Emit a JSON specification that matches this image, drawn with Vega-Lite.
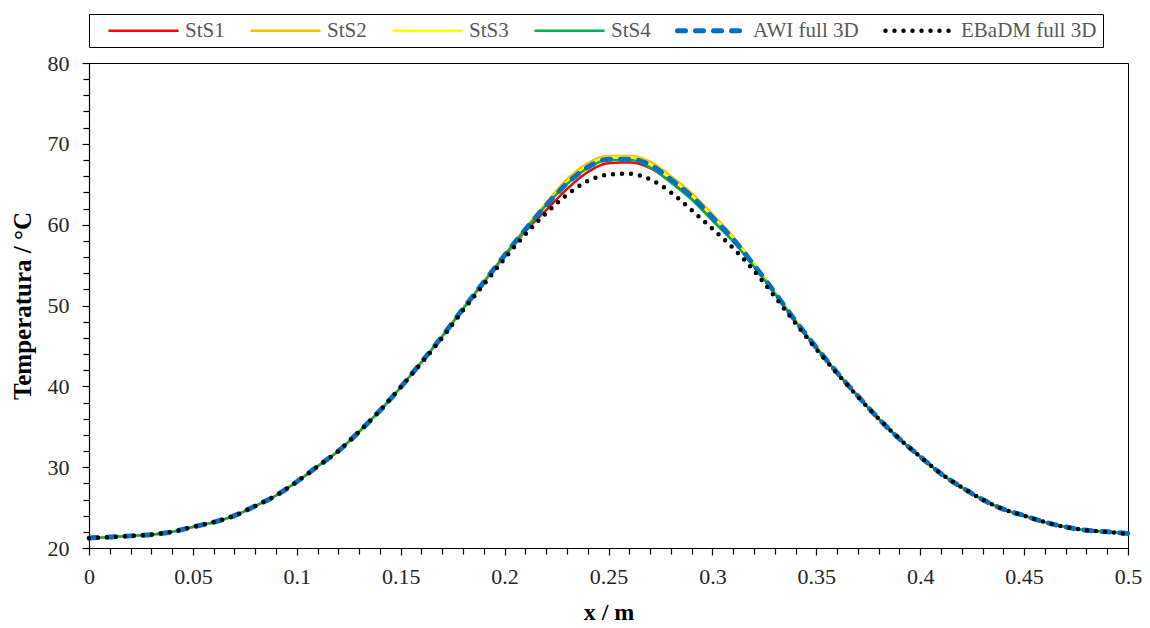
{
  "$schema": "https://vega.github.io/schema/vega-lite/v6.json",
  "width": 1039,
  "height": 485,
  "autosize": {"type": "none"},
  "padding": {"left": 89, "top": 63, "right": 22, "bottom": 80},
  "background": "white",
  "config": {
    "view": {"stroke": "black", "strokeWidth": 1},
    "font": "Liberation Serif"
  },
  "data": {
    "values": [
      {"x": 0.00, "StS1": 21.2, "StS2": 21.2, "StS3": 21.2, "StS4": 21.2, "AWI full 3D": 21.25, "EBaDM full 3D": 21.2},
      {"x": 0.01, "StS1": 21.35, "StS2": 21.35, "StS3": 21.35, "StS4": 21.35, "AWI full 3D": 21.35, "EBaDM full 3D": 21.35},
      {"x": 0.02, "StS1": 21.5, "StS2": 21.5, "StS3": 21.5, "StS4": 21.5, "AWI full 3D": 21.5, "EBaDM full 3D": 21.5},
      {"x": 0.03, "StS1": 21.65, "StS2": 21.65, "StS3": 21.65, "StS4": 21.65, "AWI full 3D": 21.65, "EBaDM full 3D": 21.65},
      {"x": 0.04, "StS1": 22.0, "StS2": 22.0, "StS3": 22.0, "StS4": 22.0, "AWI full 3D": 22.0, "EBaDM full 3D": 22.0},
      {"x": 0.05, "StS1": 22.6, "StS2": 22.6, "StS3": 22.6, "StS4": 22.6, "AWI full 3D": 22.6, "EBaDM full 3D": 22.6},
      {"x": 0.06, "StS1": 23.2, "StS2": 23.2, "StS3": 23.2, "StS4": 23.2, "AWI full 3D": 23.2, "EBaDM full 3D": 23.2},
      {"x": 0.07, "StS1": 24.0, "StS2": 24.0, "StS3": 24.0, "StS4": 24.0, "AWI full 3D": 24.0, "EBaDM full 3D": 24.0},
      {"x": 0.08, "StS1": 25.2, "StS2": 25.2, "StS3": 25.2, "StS4": 25.2, "AWI full 3D": 25.2, "EBaDM full 3D": 25.2},
      {"x": 0.09, "StS1": 26.5, "StS2": 26.5, "StS3": 26.5, "StS4": 26.5, "AWI full 3D": 26.5, "EBaDM full 3D": 26.5},
      {"x": 0.10, "StS1": 28.2, "StS2": 28.2, "StS3": 28.2, "StS4": 28.2, "AWI full 3D": 28.2, "EBaDM full 3D": 28.2},
      {"x": 0.11, "StS1": 30.1, "StS2": 30.1, "StS3": 30.1, "StS4": 30.1, "AWI full 3D": 30.1, "EBaDM full 3D": 30.1},
      {"x": 0.12, "StS1": 32.0, "StS2": 32.0, "StS3": 32.0, "StS4": 32.0, "AWI full 3D": 32.0, "EBaDM full 3D": 32.0},
      {"x": 0.13, "StS1": 34.4, "StS2": 34.4, "StS3": 34.4, "StS4": 34.4, "AWI full 3D": 34.4, "EBaDM full 3D": 34.4},
      {"x": 0.14, "StS1": 37.0, "StS2": 37.0, "StS3": 37.0, "StS4": 37.0, "AWI full 3D": 37.0, "EBaDM full 3D": 37.0},
      {"x": 0.15, "StS1": 39.9, "StS2": 39.9, "StS3": 39.9, "StS4": 39.9, "AWI full 3D": 39.9, "EBaDM full 3D": 39.9},
      {"x": 0.16, "StS1": 43.0, "StS2": 43.0, "StS3": 43.0, "StS4": 43.0, "AWI full 3D": 43.0, "EBaDM full 3D": 42.9},
      {"x": 0.17, "StS1": 46.2, "StS2": 46.2, "StS3": 46.2, "StS4": 46.2, "AWI full 3D": 46.2, "EBaDM full 3D": 46.0},
      {"x": 0.18, "StS1": 49.6, "StS2": 49.6, "StS3": 49.6, "StS4": 49.6, "AWI full 3D": 49.6, "EBaDM full 3D": 49.4},
      {"x": 0.19, "StS1": 52.9, "StS2": 53.0, "StS3": 52.9, "StS4": 52.9, "AWI full 3D": 52.9, "EBaDM full 3D": 52.6},
      {"x": 0.20, "StS1": 56.1, "StS2": 56.3, "StS3": 56.2, "StS4": 56.2, "AWI full 3D": 56.2, "EBaDM full 3D": 55.8},
      {"x": 0.21, "StS1": 59.2, "StS2": 59.6, "StS3": 59.4, "StS4": 59.4, "AWI full 3D": 59.4, "EBaDM full 3D": 58.8},
      {"x": 0.22, "StS1": 61.8, "StS2": 62.7, "StS3": 62.5, "StS4": 62.4, "AWI full 3D": 62.4, "EBaDM full 3D": 61.4},
      {"x": 0.23, "StS1": 64.4, "StS2": 65.6, "StS3": 65.2, "StS4": 65.0, "AWI full 3D": 65.1, "EBaDM full 3D": 63.7},
      {"x": 0.24, "StS1": 66.5, "StS2": 67.6, "StS3": 67.3, "StS4": 67.0, "AWI full 3D": 67.1, "EBaDM full 3D": 65.4},
      {"x": 0.25, "StS1": 67.6, "StS2": 68.5, "StS3": 68.3, "StS4": 68.0, "AWI full 3D": 68.1, "EBaDM full 3D": 66.2},
      {"x": 0.26, "StS1": 67.7, "StS2": 68.5, "StS3": 68.3, "StS4": 68.0, "AWI full 3D": 68.1, "EBaDM full 3D": 66.3},
      {"x": 0.27, "StS1": 67.0, "StS2": 67.8, "StS3": 67.5, "StS4": 67.1, "AWI full 3D": 67.4, "EBaDM full 3D": 65.6},
      {"x": 0.28, "StS1": 65.3, "StS2": 66.0, "StS3": 65.7, "StS4": 65.2, "AWI full 3D": 65.6, "EBaDM full 3D": 64.0},
      {"x": 0.29, "StS1": 63.2, "StS2": 63.9, "StS3": 63.6, "StS4": 63.1, "AWI full 3D": 63.5, "EBaDM full 3D": 61.8},
      {"x": 0.30, "StS1": 60.7, "StS2": 61.3, "StS3": 61.0, "StS4": 60.5, "AWI full 3D": 60.9, "EBaDM full 3D": 59.5},
      {"x": 0.31, "StS1": 58.0, "StS2": 58.5, "StS3": 58.3, "StS4": 57.9, "AWI full 3D": 58.2, "EBaDM full 3D": 57.1},
      {"x": 0.32, "StS1": 54.9, "StS2": 55.2, "StS3": 55.0, "StS4": 54.8, "AWI full 3D": 55.0, "EBaDM full 3D": 54.3},
      {"x": 0.33, "StS1": 51.6, "StS2": 51.7, "StS3": 51.6, "StS4": 51.5, "AWI full 3D": 51.6, "EBaDM full 3D": 51.1},
      {"x": 0.34, "StS1": 48.1, "StS2": 48.2, "StS3": 48.1, "StS4": 48.0, "AWI full 3D": 48.1, "EBaDM full 3D": 47.8},
      {"x": 0.35, "StS1": 44.8, "StS2": 44.9, "StS3": 44.8, "StS4": 44.8, "AWI full 3D": 44.8, "EBaDM full 3D": 44.6},
      {"x": 0.36, "StS1": 41.7, "StS2": 41.7, "StS3": 41.7, "StS4": 41.7, "AWI full 3D": 41.7, "EBaDM full 3D": 41.6},
      {"x": 0.37, "StS1": 38.8, "StS2": 38.8, "StS3": 38.8, "StS4": 38.8, "AWI full 3D": 38.8, "EBaDM full 3D": 38.7},
      {"x": 0.38, "StS1": 36.0, "StS2": 36.0, "StS3": 36.0, "StS4": 36.0, "AWI full 3D": 36.0, "EBaDM full 3D": 36.0},
      {"x": 0.39, "StS1": 33.5, "StS2": 33.5, "StS3": 33.5, "StS4": 33.5, "AWI full 3D": 33.5, "EBaDM full 3D": 33.5},
      {"x": 0.40, "StS1": 31.3, "StS2": 31.3, "StS3": 31.3, "StS4": 31.3, "AWI full 3D": 31.3, "EBaDM full 3D": 31.3},
      {"x": 0.41, "StS1": 29.2, "StS2": 29.2, "StS3": 29.2, "StS4": 29.2, "AWI full 3D": 29.2, "EBaDM full 3D": 29.2},
      {"x": 0.42, "StS1": 27.5, "StS2": 27.5, "StS3": 27.5, "StS4": 27.5, "AWI full 3D": 27.5, "EBaDM full 3D": 27.5},
      {"x": 0.43, "StS1": 26.0, "StS2": 26.0, "StS3": 26.0, "StS4": 26.0, "AWI full 3D": 26.0, "EBaDM full 3D": 26.0},
      {"x": 0.44, "StS1": 24.8, "StS2": 24.8, "StS3": 24.8, "StS4": 24.8, "AWI full 3D": 24.8, "EBaDM full 3D": 24.8},
      {"x": 0.45, "StS1": 24.0, "StS2": 24.0, "StS3": 24.0, "StS4": 24.0, "AWI full 3D": 24.0, "EBaDM full 3D": 24.0},
      {"x": 0.46, "StS1": 23.2, "StS2": 23.2, "StS3": 23.2, "StS4": 23.2, "AWI full 3D": 23.2, "EBaDM full 3D": 23.2},
      {"x": 0.47, "StS1": 22.6, "StS2": 22.6, "StS3": 22.6, "StS4": 22.6, "AWI full 3D": 22.6, "EBaDM full 3D": 22.6},
      {"x": 0.48, "StS1": 22.2, "StS2": 22.2, "StS3": 22.2, "StS4": 22.2, "AWI full 3D": 22.2, "EBaDM full 3D": 22.2},
      {"x": 0.49, "StS1": 22.0, "StS2": 22.0, "StS3": 22.0, "StS4": 22.0, "AWI full 3D": 22.0, "EBaDM full 3D": 22.0},
      {"x": 0.50, "StS1": 21.8, "StS2": 21.8, "StS3": 21.8, "StS4": 21.8, "AWI full 3D": 21.8, "EBaDM full 3D": 21.7}
    ]
  },
  "transform": [
    {"fold": ["StS1", "StS2", "StS3", "StS4", "AWI full 3D", "EBaDM full 3D"], "as": ["series", "T"]}
  ],
  "encoding": {
    "x": {
      "field": "x", "type": "quantitative",
      "scale": {"domain": [0, 0.5], "nice": false, "zero": false},
      "axis": {
        "title": "x / m",
        "values": [0,0.01,0.02,0.03,0.04,0.05,0.06,0.07,0.08,0.09,0.1,0.11,0.12,0.13,0.14,0.15,0.16,0.17,0.18,0.19,0.2,0.21,0.22,0.23,0.24,0.25,0.26,0.27,0.28,0.29,0.3,0.31,0.32,0.33,0.34,0.35,0.36,0.37,0.38,0.39,0.4,0.41,0.42,0.43,0.44,0.45,0.46,0.47,0.48,0.49,0.5],
        "format": "~g",
        "labelExpr": "abs(datum.value*20 - round(datum.value*20)) < 1e-6 ? datum.label : ''",
        "labelOverlap": false,
        "labelFlush": false,
        "grid": false,
        "domainColor": "black",
        "domainWidth": 1.2,
        "tickColor": "black",
        "tickWidth": 1.2,
        "tickSize": {"condition": {"test": "abs(datum.value*20 - round(datum.value*20)) < 1e-6", "value": 7}, "value": 6},
        "labelFont": "Liberation Serif",
        "labelFontSize": 22,
        "labelColor": "#262626",
        "labelPadding": 11,
        "titleFont": "Liberation Serif",
        "titleFontSize": 24,
        "titleFontWeight": "bold",
        "titleColor": "black",
        "titlePadding": 13
      }
    },
    "y": {
      "field": "T", "type": "quantitative",
      "scale": {"domain": [20, 80], "nice": false, "zero": false},
      "axis": {
        "title": "Temperatura / °C",
        "values": [20,22,24,26,28,30,32,34,36,38,40,42,44,46,48,50,52,54,56,58,60,62,64,66,68,70,72,74,76,78,80],
        "labelExpr": "datum.value % 10 == 0 ? datum.label : ''",
        "labelOverlap": false,
        "grid": false,
        "domainColor": "black",
        "domainWidth": 1.2,
        "tickColor": "black",
        "tickWidth": 1.2,
        "tickSize": {"condition": {"test": "datum.value % 10 == 0", "value": 7}, "value": 6},
        "labelFont": "Liberation Serif",
        "labelFontSize": 22,
        "labelColor": "#262626",
        "labelPadding": 13,
        "titleFont": "Liberation Serif",
        "titleFontSize": 25,
        "titleFontWeight": "bold",
        "titleColor": "black",
        "titlePadding": 12
      }
    },
    "color": {
      "field": "series", "type": "nominal",
      "scale": {
        "domain": ["StS1", "StS2", "StS3", "StS4", "AWI full 3D", "EBaDM full 3D"],
        "range": ["#FF0000", "#FFC000", "#FFFF00", "#00B050", "#0070C0", "#000000"]
      },
      "legend": {
        "title": null,
        "orient": "none",
        "legendX": 0,
        "legendY": -49,
        "direction": "horizontal",
        "gridAlign": "each",
        "symbolType": "M-6.8,0H6.8",
        "symbolSize": 100,
        "symbolOffset": 38,
        "columnPadding": 12,
        "labelOffset": 31,
        "labelFont": "Liberation Serif",
        "labelFontSize": 21,
        "labelColor": "#595959",
        "labelLimit": 300,
        "padding": 6,
        "strokeColor": "black",
        "fillColor": "white",
        "encode": {
          "symbols": {
            "update": {
              "strokeCap": {"value": "round"},
              "strokeWidth": {"signal": "datum.value == 'AWI full 3D' ? 5 : datum.value == 'EBaDM full 3D' ? 4.5 : 2.5"}
            }
          }
        }
      }
    },
    "strokeDash": {
      "field": "series", "type": "nominal",
      "scale": {
        "domain": ["StS1", "StS2", "StS3", "StS4", "AWI full 3D", "EBaDM full 3D"],
        "range": [[1, 0], [1, 0], [1, 0], [1, 0], [8, 10], [0, 9]]
      }
    }
  },
  "layer": [
    {
      "transform": [{"filter": {"field": "series", "oneOf": ["StS1", "StS2", "StS3", "StS4"]}}],
      "mark": {"type": "line", "interpolate": "monotone", "strokeCap": "round", "strokeWidth": 2.5}
    },
    {
      "transform": [{"filter": {"field": "series", "equal": "AWI full 3D"}}],
      "mark": {"type": "line", "interpolate": "monotone", "strokeCap": "round", "strokeWidth": 5}
    },
    {
      "transform": [{"filter": {"field": "series", "equal": "EBaDM full 3D"}}],
      "mark": {"type": "line", "interpolate": "monotone", "strokeCap": "round", "strokeWidth": 4.5}
    }
  ]
}
